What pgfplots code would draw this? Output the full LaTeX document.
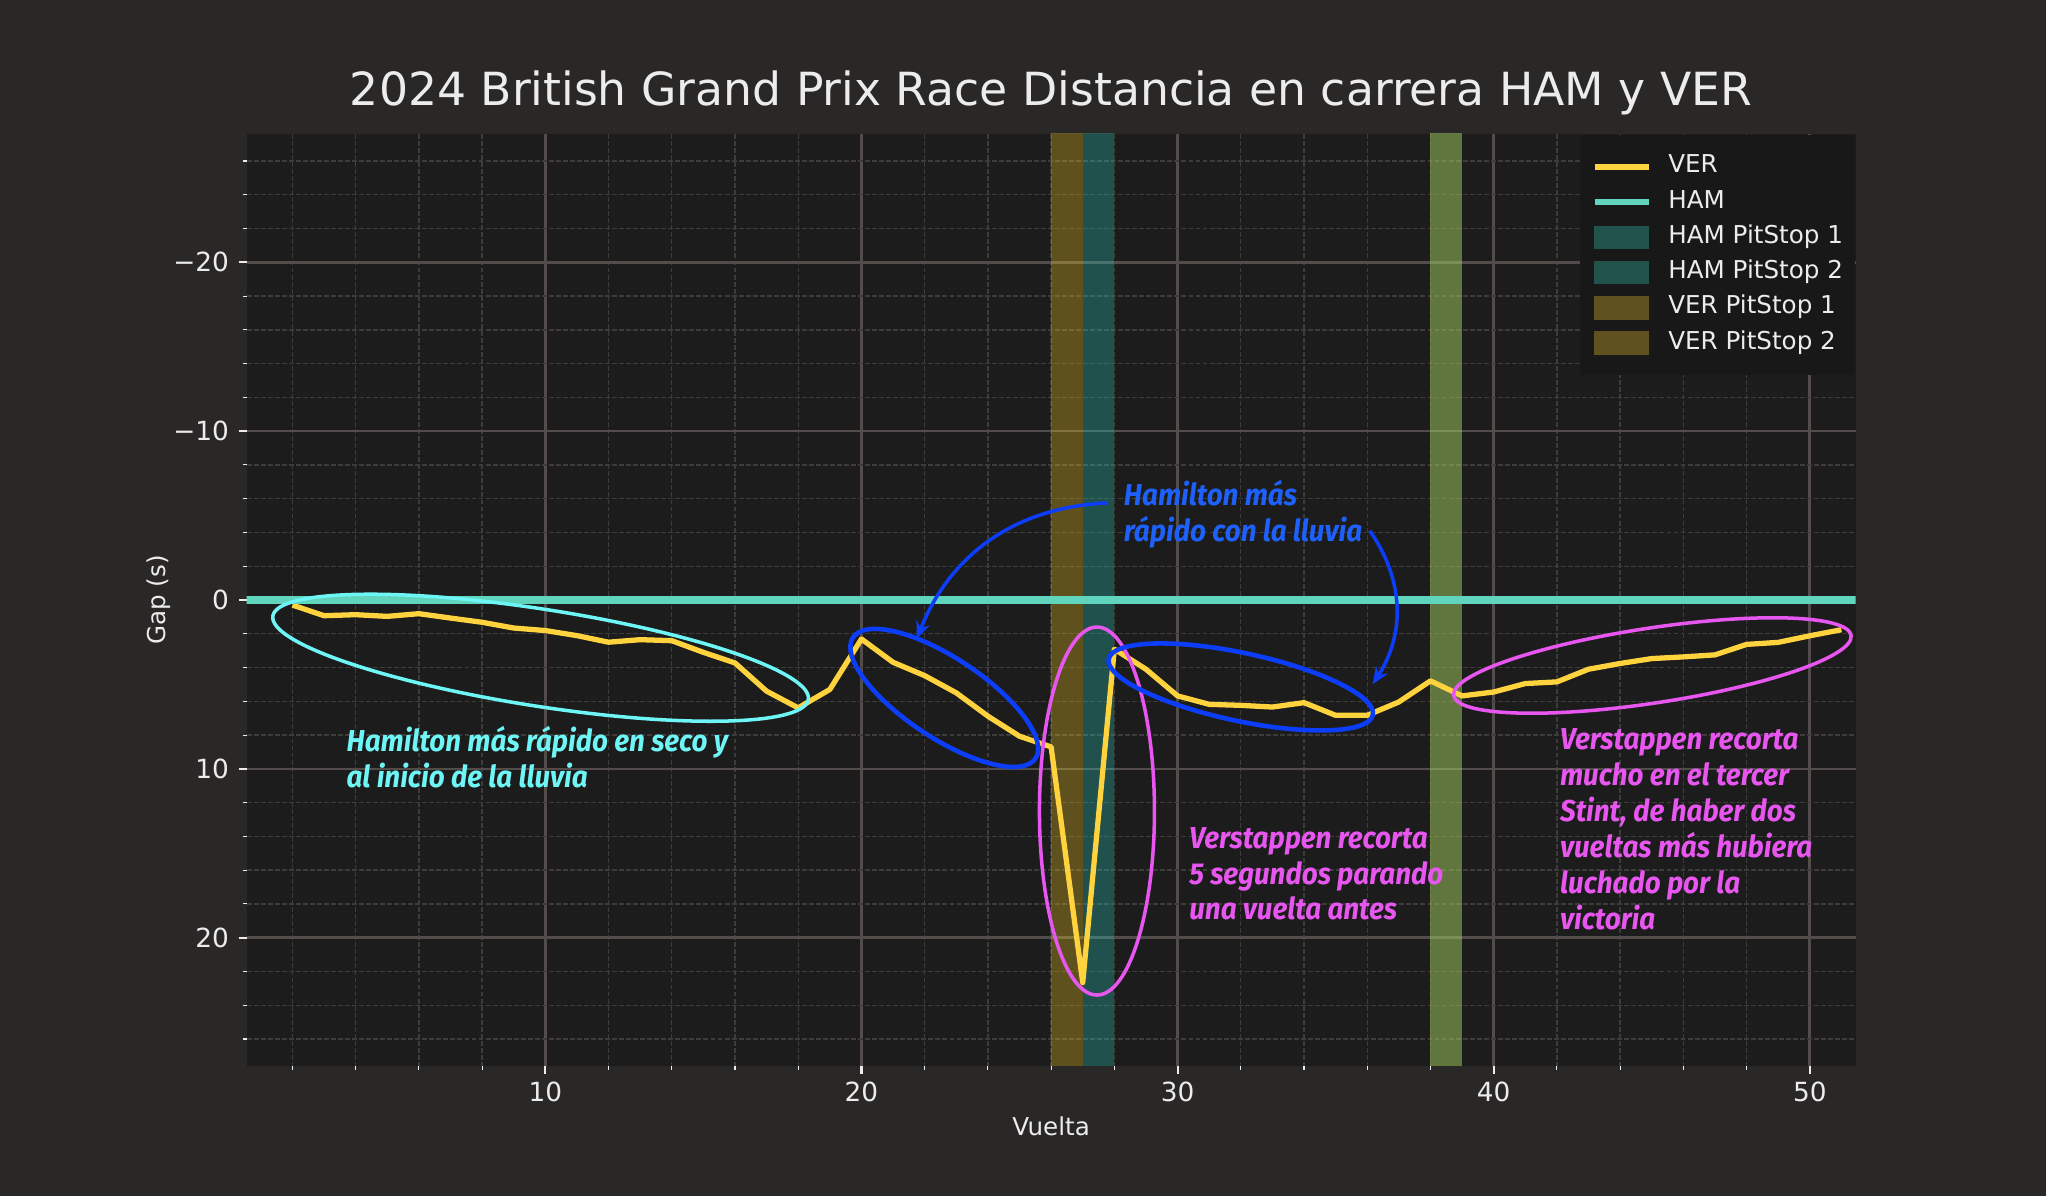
\documentclass[border=0pt]{standalone}
\usepackage{fontspec}
\setmainfont{DejaVu Sans}
\newfontfamily\annfont[FakeStretch=0.92]{Fira Sans}
\usepackage{pgfplots}
\pgfplotsset{compat=1.18}
\usetikzlibrary{shapes.geometric,arrows.meta}

\definecolor{figbg}{RGB}{42,39,39}
\definecolor{axbg}{RGB}{29,28,28}
\definecolor{legbg}{RGB}{25,24,24}
\definecolor{majgrid}{RGB}{82,76,74}
\definecolor{mingrid}{RGB}{62,60,59}
\definecolor{vercol}{RGB}{255,211,62}
\definecolor{hamcol}{RGB}{96,212,188}
\definecolor{hamspan}{RGB}{43,206,188}
\definecolor{verspan}{RGB}{247,206,35}
\definecolor{hampatch}{RGB}{34,82,76}
\definecolor{verpatch}{RGB}{95,82,32}
\definecolor{anncyan}{RGB}{110,245,245}
\definecolor{annblue}{RGB}{12,62,250}
\definecolor{annbluetxt}{RGB}{30,96,250}
\definecolor{annmag}{RGB}{232,86,240}
\definecolor{txt}{RGB}{236,236,236}

\pgfplotstableread{
lap gap
2 0.30
3 0.93
4 0.87
5 0.97
6 0.81
7 1.07
8 1.32
9 1.66
10 1.81
11 2.11
12 2.50
13 2.35
14 2.41
15 3.10
16 3.73
17 5.40
18 6.39
19 5.30
20 2.31
21 3.69
22 4.48
23 5.50
24 6.88
25 8.07
26 8.70
27 22.66
28 2.91
29 4.10
30 5.68
31 6.18
32 6.24
33 6.34
34 6.08
35 6.83
36 6.83
37 6.04
38 4.79
39 5.68
40 5.45
41 4.95
42 4.85
43 4.10
44 3.76
45 3.47
46 3.37
47 3.25
48 2.63
49 2.51
50 2.12
51 1.76
}\ver

\tikzset{annfnt/.style={font=\annfont\bfseries\itshape\fontsize{8.6}{10.2}\selectfont}}

\begin{document}
\begin{tikzpicture}
\fill[figbg] (-2.466cm,-1.30cm) rectangle (17.994cm,10.66cm);
\begin{axis}[
  at={(0,0)}, anchor=south west,
  scale only axis, width=16.09cm, height=9.32cm,
  xmin=0.55, xmax=51.45, ymin=-27.6, ymax=27.6, y dir=reverse,
  axis background/.style={fill=axbg},
  axis line style={draw=none},
  xtick={10,20,30,40,50}, xticklabels={10,20,30,40,50},
  ytick={-20,-10,0,10,20}, yticklabels={−20,−10,0,10,20},
  minor xtick={2,4,...,50}, minor ytick={-26,-24,...,26},
  tick pos=left, tick align=outside,
  major tick length=0.08cm, minor tick length=0.04cm,
  major tick style={line width=0.6pt, txt},
  minor tick style={line width=0.3pt, txt},
  grid=both,
  major grid style={majgrid, line width=0.75pt, solid},
  minor grid style={mingrid, line width=0.4pt, dash pattern=on 1.4pt off 0.6pt},
  ticklabel style={font=\fontsize{7.5}{8.5}\selectfont, text=txt},
  xticklabel style={anchor=base, yshift=-0.28cm},
  yticklabel style={anchor=east, inner sep=0pt, xshift=-0.09cm},
  xlabel={Vuelta}, ylabel={Gap (s)},
  label style={font=\fontsize{7}{8}\selectfont, text=txt},
  xlabel style={at={(axis description cs:0.5,0)}, anchor=base, yshift=-0.70cm},
  ylabel style={at={(axis description cs:-0.0507,0.5)}, anchor=base},
  title={2024 British Grand Prix Race Distancia en carrera HAM y VER},
  title style={at={(axis description cs:0.5,1)}, anchor=base, yshift=0.07cm,
    font=\fontsize{13}{15}\selectfont, text=txt},
  legend style={at={(axis description cs:1,1)}, anchor=north east,
    fill=legbg, draw=none, text=txt, font=\fontsize{7}{8}\selectfont,
    inner xsep=0.12cm, inner ysep=0.2cm, row sep=0.113cm,
    nodes={inner sep=0pt, text height=0.18cm, text depth=0.06cm},
    /tikz/every odd column/.style={column sep=0.17cm}},
  legend cell align=left,
]
\addlegendimage{legend image code/.code={\draw[vercol, line width=1.6pt] (0cm,0cm) -- (0.54cm,0cm);}}
\addlegendentry{VER}
\addlegendimage{legend image code/.code={\draw[hamcol, line width=1.6pt] (0cm,0cm) -- (0.54cm,0cm);}}
\addlegendentry{HAM}
\addlegendimage{legend image code/.code={\fill[hampatch] (0cm,-0.11cm) rectangle (0.54cm,0.11cm);}}
\addlegendentry{HAM PitStop 1}
\addlegendimage{legend image code/.code={\fill[hampatch] (0cm,-0.11cm) rectangle (0.54cm,0.11cm);}}
\addlegendentry{HAM PitStop 2}
\addlegendimage{legend image code/.code={\fill[verpatch] (0cm,-0.11cm) rectangle (0.54cm,0.11cm);}}
\addlegendentry{VER PitStop 1}
\addlegendimage{legend image code/.code={\fill[verpatch] (0cm,-0.11cm) rectangle (0.54cm,0.11cm);}}
\addlegendentry{VER PitStop 2}

% pit stop windows
\addplot[forget plot, draw=none, fill=hamspan, fill opacity=0.3] coordinates {(27,-30) (28,-30) (28,30) (27,30)};
\addplot[forget plot, draw=none, fill=hamspan, fill opacity=0.3] coordinates {(38,-30) (39,-30) (39,30) (38,30)};
\addplot[forget plot, draw=none, fill=verspan, fill opacity=0.3] coordinates {(26,-30) (27,-30) (27,30) (26,30)};
\addplot[forget plot, draw=none, fill=verspan, fill opacity=0.3] coordinates {(38,-30) (39,-30) (39,30) (38,30)};

% gap lines
\addplot[forget plot, vercol, line width=1.5pt, line join=round] table[x=lap, y=gap] {\ver};
\addplot[forget plot, hamcol, line width=2pt] coordinates {(0,0) (52,0)};

% annotations
\node[draw=anncyan, line width=1pt, ellipse, minimum width=5.42cm, minimum height=0.97cm,
  inner sep=0pt, rotate=-8.85] at (axis cs:9.85,3.42) {};
\node[draw=annblue, line width=1.3pt, ellipse, minimum width=2.19cm, minimum height=0.80cm,
  inner sep=0pt, rotate=-33.5] at (axis cs:22.62,5.8) {};
\node[draw=annmag, line width=1pt, ellipse, minimum width=1.15cm, minimum height=3.68cm,
  inner sep=0pt] at (axis cs:27.45,12.5) {};
\node[draw=annblue, line width=1.3pt, ellipse, minimum width=2.70cm, minimum height=0.68cm,
  inner sep=0pt, rotate=-12] at (axis cs:32.0,5.15) {};
\node[draw=annmag, line width=1pt, ellipse, minimum width=4.02cm, minimum height=0.75cm,
  inner sep=0pt, rotate=8.6] at (axis cs:45.02,3.88) {};

\draw[annblue, line width=1pt, -{Stealth[length=0.17cm, width=0.14cm]}]
  (axis cs:27.8,-5.75) to[bend right=33] (axis cs:21.75,2.3);
\draw[annblue, line width=1pt, -{Stealth[length=0.17cm, width=0.14cm]}]
  (axis cs:36.08,-4.1) to[bend left=34] (axis cs:36.17,4.99);

% text nodes: anchored at the baseline of their last line
\node[annfnt, text=anncyan, anchor=base west, align=left, inner sep=0pt]
  at (axis cs:3.69,11.12) {Hamilton más rápido en seco y\\al inicio de la lluvia};
\node[annfnt, text=annbluetxt, anchor=base west, align=left, inner sep=0pt]
  at (axis cs:28.28,-3.46) {Hamilton más\\rápido con la lluvia};
\node[annfnt, text=annmag, anchor=base west, align=left, inner sep=0pt]
  at (axis cs:30.35,18.95) {Verstappen recorta\\5 segundos parando\\una vuelta antes};
\node[annfnt, text=annmag, anchor=base west, align=left, inner sep=0pt]
  at (axis cs:42.08,19.5) {Verstappen recorta\\mucho en el tercer\\Stint, de haber dos\\vueltas más hubiera\\luchado por la\\victoria};
\end{axis}
\end{tikzpicture}
\end{document}
